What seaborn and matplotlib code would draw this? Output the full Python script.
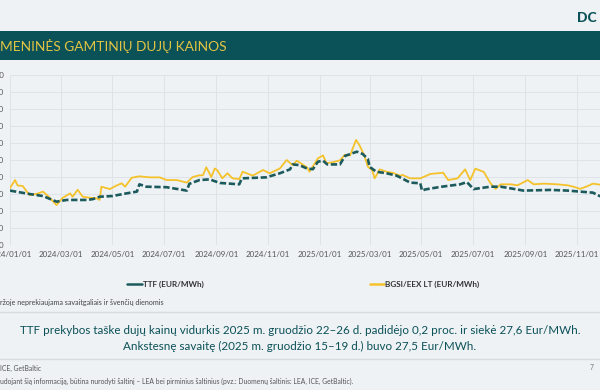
import matplotlib
matplotlib.use("Agg")
import matplotlib.pyplot as plt
import matplotlib.dates as mdates
from matplotlib.patches import Rectangle
from matplotlib.lines import Line2D
import pandas as pd
import seaborn as sns

# ---------------- data ----------------
ttf_dates = ["2024-01-01", "2024-01-24", "2024-02-09", "2024-02-25", "2024-03-08", "2024-04-01",
             "2024-04-08", "2024-04-16", "2024-05-01", "2024-05-18", "2024-05-30", "2024-06-02",
             "2024-06-10", "2024-07-04", "2024-07-28", "2024-07-31", "2024-08-12", "2024-08-24",
             "2024-09-05", "2024-09-28", "2024-10-01", "2024-10-30", "2024-11-15", "2024-11-27",
             "2024-11-30", "2024-12-08", "2024-12-17", "2024-12-24", "2024-12-30", "2025-01-05",
             "2025-01-10", "2025-01-25", "2025-01-31", "2025-02-14", "2025-02-21", "2025-02-27",
             "2025-03-01", "2025-03-09", "2025-03-21", "2025-04-02", "2025-04-06", "2025-04-18",
             "2025-04-30", "2025-05-02", "2025-05-06", "2025-05-24", "2025-06-16", "2025-06-24",
             "2025-07-02", "2025-07-22", "2025-08-03", "2025-08-15", "2025-08-30", "2025-10-01",
             "2025-10-21", "2025-11-05", "2025-11-20", "2025-11-28", "2025-12-26"]
ttf_values = [32.0, 30.0, 28.8, 25.5, 26.5, 26.5,
              27.0, 28.4, 28.8, 30.4, 31.4, 35.7,
              34.3, 34.0, 32.0, 36.0, 38.2, 38.6,
              36.5, 35.7, 39.2, 39.8, 42.2, 44.5,
              47.4, 47.0, 45.0, 44.6, 49.0, 49.6,
              47.4, 47.4, 52.4, 54.9, 53.5, 50.6,
              46.0, 43.1, 42.2, 40.8, 39.8, 36.7,
              36.3, 32.0, 32.7, 34.2, 35.7, 37.0,
              32.9, 34.3, 34.3, 33.3, 32.0, 32.4,
              32.0, 31.4, 30.8, 28.8, 27.6]

bgsi_dates = ["2024-01-01", "2024-01-07", "2024-01-10", "2024-01-16", "2024-01-24", "2024-02-01",
              "2024-02-09", "2024-02-15", "2024-02-25", "2024-03-03", "2024-03-12", "2024-03-15",
              "2024-03-21", "2024-03-27", "2024-04-04", "2024-04-12", "2024-04-16", "2024-04-18",
              "2024-04-28", "2024-05-06", "2024-05-12", "2024-05-16", "2024-05-24", "2024-06-02",
              "2024-06-14", "2024-06-26", "2024-07-04", "2024-07-16", "2024-07-28", "2024-08-04",
              "2024-08-12", "2024-08-16", "2024-08-20", "2024-08-26", "2024-08-30", "2024-09-02",
              "2024-09-08", "2024-09-14", "2024-09-20", "2024-09-28", "2024-10-02", "2024-10-14",
              "2024-10-26", "2024-11-03", "2024-11-15", "2024-11-23", "2024-11-30", "2024-12-05",
              "2024-12-17", "2024-12-20", "2024-12-30", "2025-01-05", "2025-01-09", "2025-01-16",
              "2025-01-25", "2025-01-31", "2025-02-06", "2025-02-13", "2025-02-17", "2025-02-23",
              "2025-02-27", "2025-03-04", "2025-03-07", "2025-03-13", "2025-03-21", "2025-03-28",
              "2025-04-06", "2025-04-09", "2025-04-18", "2025-04-30", "2025-05-12", "2025-05-27",
              "2025-06-02", "2025-06-13", "2025-06-22", "2025-06-28", "2025-07-04", "2025-07-14",
              "2025-07-22", "2025-07-28", "2025-08-03", "2025-08-15", "2025-08-23", "2025-09-04",
              "2025-09-11", "2025-09-23", "2025-10-09", "2025-10-21", "2025-10-28", "2025-11-05",
              "2025-11-13", "2025-11-20", "2025-11-28"]
bgsi_values = [33.5, 38.2, 35.0, 34.7, 29.4, 30.0,
               31.4, 28.8, 23.5, 27.6, 30.4, 28.4,
               32.5, 28.4, 27.8, 27.5, 26.5, 34.3,
               32.9, 35.0, 36.3, 34.3, 39.6, 40.4,
               39.8, 39.8, 38.2, 38.2, 36.7, 40.0,
               41.0, 41.0, 45.7, 40.0, 45.0, 44.0,
               39.2, 42.2, 39.2, 38.8, 43.1, 40.8,
               44.1, 42.2, 45.0, 50.0, 47.0, 49.6,
               45.7, 43.1, 51.0, 52.7, 48.2, 48.6,
               49.8, 53.1, 52.7, 61.8, 58.8, 52.4,
               46.1, 44.1, 39.2, 44.5, 43.1, 42.5,
               40.8, 41.2, 39.2, 39.2, 41.8, 42.5,
               38.2, 39.2, 44.5, 38.2, 44.9, 43.0,
               36.3, 33.0, 35.7, 35.7, 35.1, 38.2,
               35.7, 36.1, 35.7, 35.1, 34.3, 33.0,
               34.5, 36.1, 35.5]

y_ticks = [0, 10, 20, 30, 40, 50, 60, 70, 80, 90, 100]
x_ticks = ["2024-01-01", "2024-03-01", "2024-05-01", "2024-07-01", "2024-09-01", "2024-11-01",
           "2025-01-01", "2025-03-01", "2025-05-01", "2025-07-01", "2025-09-01", "2025-11-01"]

title_text = "MENINĖS GAMTINIŲ DUJŲ KAINOS"
legend_ttf = "TTF (EUR/MWh)"
legend_bgsi = "BGSI/EEX LT (EUR/MWh)"
footnote = "ržoje neprekiaujama savaitgaliais ir švenčių dienomis"
main_line1 = "TTF prekybos taške dujų kainų vidurkis 2025 m. gruodžio 22–26 d. padidėjo 0,2 proc. ir siekė 27,6 Eur/MWh."
main_line2 = "Ankstesnę savaitę (2025 m. gruodžio 15–19 d.) buvo 27,5 Eur/MWh."
source1 = "ICE, GetBaltic"
source2 = "udojant šią informaciją, būtina nurodyti šaltinį – LEA bei pirminius šaltinius (pvz.: Duomenų šaltinis: LEA, ICE, GetBaltic)."
page_no = "7"

# ---------------- style ----------------
BG = "#eef2f5"
TEAL = "#0b5158"
TTF_C = "#1d5a5c"
GOLD = "#f5c22b"
GRID = "#dde3e8"

sns.set_theme(style="whitegrid", rc={"axes.facecolor": BG, "figure.facecolor": BG,
                                     "grid.color": GRID, "grid.linewidth": 0.7})
plt.rcParams["font.family"] = ["Lato", "DejaVu Sans"]

W, H = 600, 390
fig = plt.figure(figsize=(6, 3.9), dpi=100)
fig.patch.set_facecolor(BG)

def fx(px):
    return px / W

def fy(py):
    return 1 - py / H

# header band
fig.patches.append(Rectangle((0, fy(60)), 1, 29 / H, transform=fig.transFigure,
                             facecolor=TEAL, edgecolor="none", zorder=0))
fig.text(fx(0), fy(46), title_text, color="#e2c443", fontsize=9.9, va="center", ha="left")
fig.text(fx(577), fy(18), "DC", color=TEAL, fontsize=10, fontweight="black", va="center", ha="left")

# axes
x0 = pd.Timestamp("2024-01-01")
x1 = pd.Timestamp("2025-12-31")
px_per_day = 0.846
ax_w_px = (x1 - x0).days * px_per_day
ax = fig.add_axes([fx(10), fy(245), ax_w_px / W, 170 / H])
ax.set_facecolor(BG)

df_ttf = pd.DataFrame({"date": pd.to_datetime(ttf_dates), "value": ttf_values})
df_bgsi = pd.DataFrame({"date": pd.to_datetime(bgsi_dates), "value": bgsi_values})

sns.lineplot(data=df_bgsi, x="date", y="value", ax=ax, color=GOLD, linewidth=1.3,
             estimator=None, zorder=3)
sns.lineplot(data=df_ttf, x="date", y="value", ax=ax, color=TTF_C, linewidth=1.9,
             linestyle=(0, (2.4, 1.0)), estimator=None, zorder=4)

ax.set_xlim(x0, x1)
ax.set_ylim(0, 100)
ax.set_yticks(y_ticks)
ax.set_yticklabels([str(v) for v in y_ticks])
ax.set_xticks(pd.to_datetime(x_ticks))
ax.xaxis.set_major_formatter(mdates.DateFormatter("%Y/%m/%d"))
ax.tick_params(axis="both", labelsize=5.8, colors="#555555", length=0)
ax.tick_params(axis="y", pad=4.5)
ax.tick_params(axis="x", pad=4)
ax.set_xlabel("")
ax.set_ylabel("")
for s in ax.spines.values():
    s.set_visible(False)
ax.grid(True, color=GRID, linewidth=0.7)

# legend
fig.add_artist(Line2D([fx(127), fx(142)], [fy(284), fy(284)], color=TTF_C, linewidth=1.8,
                      transform=fig.transFigure))
fig.text(fx(143), fy(284), legend_ttf, fontsize=5.9, fontweight="bold", color="#333333",
         va="center", ha="left")
fig.add_artist(Line2D([fx(370), fx(384)], [fy(284), fy(284)], color=GOLD, linewidth=1.8,
                      transform=fig.transFigure))
fig.text(fx(385), fy(284), legend_bgsi, fontsize=5.9, fontweight="bold", color="#333333",
         va="center", ha="left")

fig.text(fx(0), fy(302), footnote, fontsize=5.1, color="#444444", va="center", ha="left")

# separators
for yy in (312, 359):
    fig.add_artist(Line2D([0, 1], [fy(yy), fy(yy)], color="#d6dbdf", linewidth=1.0,
                          transform=fig.transFigure))

fig.text(0.5, fy(330), main_line1, fontsize=8.35, color=TEAL, va="center", ha="center")
fig.text(0.5, fy(346), main_line2, fontsize=8.35, color=TEAL, va="center", ha="center")

fig.text(fx(0), fy(368), source1, fontsize=4.9, color="#555555", va="center", ha="left")
fig.text(fx(590), fy(368), page_no, fontsize=4.9, color="#777777", va="center", ha="left")
fig.text(fx(0), fy(381), source2, fontsize=4.9, color="#555555", va="center", ha="left")

fig.savefig("out.png", dpi=100, facecolor=BG)
